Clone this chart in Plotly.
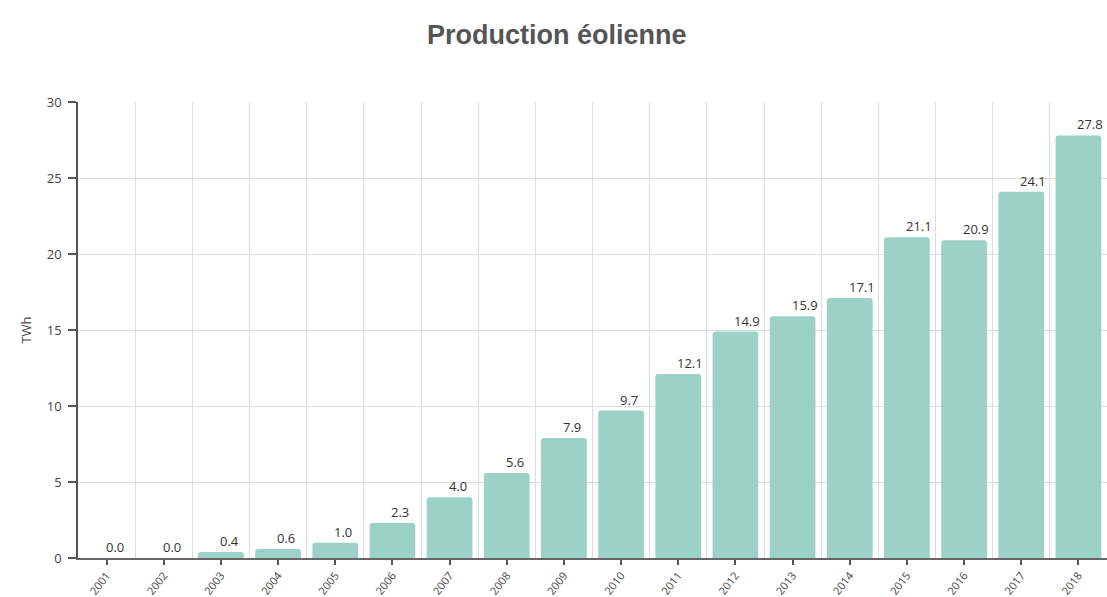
import plotly.graph_objects as go

# Production éolienne annuelle (TWh)
years = ["2001", "2002", "2003", "2004", "2005", "2006", "2007", "2008", "2009",
         "2010", "2011", "2012", "2013", "2014", "2015", "2016", "2017", "2018"]
production = [0.0, 0.0, 0.4, 0.6, 1.0, 2.3, 4.0, 5.6, 7.9,
              9.7, 12.1, 14.9, 15.9, 17.1, 21.1, 20.9, 24.1, 27.8]
y_ticks = [0, 5, 10, 15, 20, 25, 30]

pos = list(range(len(years)))

fig = go.Figure()
fig.add_trace(go.Bar(
    x=pos, y=production,
    width=0.8,
    marker=dict(color="#9cd2c5", cornerradius=3, line=dict(width=0)),
    hoverinfo="x+y",
))

# valeurs au-dessus des barres
for p, v in zip(pos, production):
    fig.add_annotation(
        x=p, y=v, text=f"{v:.1f}", showarrow=False,
        xanchor="left", yanchor="bottom", xshift=-3, yshift=0,
        font=dict(family="Open Sans, Arial", size=13, color="#333333"),
    )

fig.update_layout(
    width=1107, height=597,
    margin=dict(l=78, r=0, t=102, b=39),
    paper_bgcolor="white", plot_bgcolor="white",
    showlegend=False,
    title=dict(
        text="<b>Production éolienne</b>",
        x=0.503, xanchor="center", y=0.942, yanchor="middle",
        font=dict(family="Liberation Sans, Arial", size=27, color="#555555"),
    ),
    bargap=0.2,
)

fig.update_xaxes(
    range=[-0.5, len(years) - 0.5],
    automargin=False,
    tickmode="array", tickvals=pos, ticktext=years,
    tickangle=-52,
    ticks="outside", ticklen=5, tickwidth=1.5, tickcolor="#555555",
    tickfont=dict(family="Open Sans, Arial", size=11, color="#444444"),
    showgrid=False,
    showline=True, linecolor="#666666", linewidth=1.5,
    minor=dict(tickmode="linear", tick0=-0.5, dtick=1, showgrid=True,
               gridcolor="#dddddd", gridwidth=1, ticks=""),
    zeroline=False,
)

fig.update_yaxes(
    range=[0, 30],
    automargin=False,
    tickmode="array", tickvals=y_ticks,
    ticks="outside", ticklen=8, tickwidth=1.5, tickcolor="#555555",
    tickfont=dict(family="Open Sans, Arial", size=13, color="#444444"),
    ticklabelstandoff=4,
    showgrid=True, gridcolor="#dddddd", gridwidth=1,
    showline=True, linecolor="#555555", linewidth=1.5,
    zeroline=False,
    title=dict(text="TWh", standoff=12,
               font=dict(family="Open Sans, Arial", size=13, color="#444444")),
)

fig.write_html("out.html")
